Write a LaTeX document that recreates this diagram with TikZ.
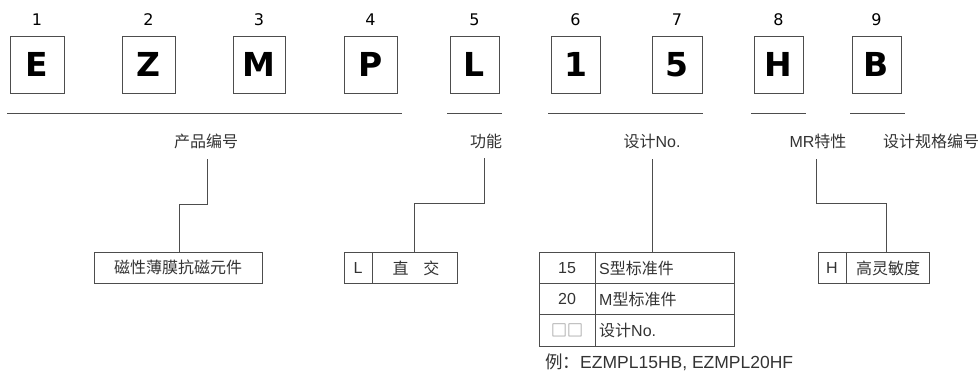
\documentclass[tikz,border=0pt]{standalone}
\usepackage{fontspec}
\setmainfont{Liberation Sans}
\newfontfamily\cjk{Noto Sans CJK SC}
\newfontfamily\dv{DejaVu Sans}
\definecolor{txt}{HTML}{333333}
\definecolor{ln}{HTML}{4D4D4D}
\tikzset{
  letterbox/.style={draw=ln, line width=0.8pt, minimum height=57pt, inner sep=0pt, font=\dv\fontsize{33}{36}\selectfont\bfseries, text=black},
  num/.style={font=\dv\fontsize{16}{18}\selectfont, text=black, inner sep=0pt},
  lab/.style={font=\fontsize{16}{18}\selectfont, text=txt, inner sep=0pt},
  cell/.style={draw=ln, line width=0.8pt, minimum height=31pt, inner sep=0pt},
  ctext/.style={font=\fontsize{16}{18}\selectfont, text=txt, inner sep=0pt},
  conn/.style={draw=ln, line width=0.8pt},
  rule/.style={draw=ln, line width=0.8pt}
}
\begin{document}
\begin{tikzpicture}[x=1pt,y=-1pt]
\useasboundingbox (0,0) rectangle (979,370);
% letter boxes
\node[letterbox, minimum width=54pt] (kE) at (37,64.5) {E};
\node[letterbox, minimum width=53pt] (kZ) at (148.5,64.5) {Z};
\node[letterbox, minimum width=52pt] (kM) at (259,64.5) {M};
\node[letterbox, minimum width=53pt] (kP) at (370.5,64.5) {P};
\node[letterbox, minimum width=49pt] (kL) at (474.5,64.5) {L};
\node[letterbox, minimum width=49pt] (k1) at (575.5,64.5) {1};
\node[letterbox, minimum width=50pt] (k5) at (677,64.5) {5};
\node[letterbox, minimum width=49pt] (kH) at (778.5,64.5) {H};
\node[letterbox, minimum width=49pt] (kB) at (876.5,64.5) {B};
% numbers
\node[num] (n1) at (37,20) {1};
\node[num] (n2) at (148.5,20) {2};
\node[num] (n3) at (259,20) {3};
\node[num] (n4) at (370.5,20) {4};
\node[num] (n5) at (474.5,20) {5};
\node[num] (n6) at (575.5,20) {6};
\node[num] (n7) at (677,20) {7};
\node[num] (n8) at (778.5,20) {8};
\node[num] (n9) at (876.5,20) {9};
% rules
\draw[rule] (7,113) -- (402,113);
\draw[rule] (447,113) -- (502,113);
\draw[rule] (548,113) -- (703,113);
\draw[rule] (751,113) -- (806,113);
\draw[rule] (850,113) -- (905,113);
% labels
\node[lab] (l1) at (206,141) {\cjk 产品编号};
\node[lab] (l2) at (486,141) {\cjk 功能};
\node[lab] (l3) at (652,141) {{\cjk 设计}No.};
\node[lab] (l4) at (818,141) {MR{\cjk 特性}};
\node[lab] (l5) at (931,141) {\cjk 设计规格编号};
% boxes
\node[cell, minimum width=168pt] (b1) at (178,267.5) {};
\node[ctext] at (b1) {\cjk 磁性薄膜抗磁元件};
\node[cell, minimum width=113pt] (b2) at (400.5,267.5) {};
\draw[conn] (372,252) -- (372,283);
\node[ctext] (b2a) at (358,268) {L};
\node[ctext] (b2b) at (416,268) {\cjk 直\hspace{15pt}交};
\node[cell, minimum width=195pt, minimum height=94pt] (b3) at (636.5,299) {};
\draw[conn] (539,283) -- (734,283);
\draw[conn] (539,314) -- (734,314);
\draw[conn] (595,252) -- (595,346);
\node[ctext] (t1a) at (567,268) {15};
\node[ctext, anchor=west] (t1b) at (599,268) {S{\cjk 型标准件}};
\node[ctext] (t2a) at (567,299) {20};
\node[ctext, anchor=west] (t2b) at (599,299) {M{\cjk 型标准件}};
\node[ctext, text=gray] (t3a) at (567,330) {\cjk □□};
\node[ctext, anchor=west] (t3b) at (599,330) {{\cjk 设计}No.};
\node[cell, minimum width=111pt] (b4) at (873.5,267.5) {};
\draw[conn] (846,252) -- (846,283);
\node[ctext] (b4a) at (832,268) {H};
\node[ctext] (b4b) at (888,268) {\cjk 高灵敏度};
\node[ctext, anchor=west, font=\fontsize{17.5}{20}\selectfont] (ex) at (545,362) {{\cjk 例：}EZMPL15HB, EZMPL20HF};
% connectors
\coordinate (c1a) at (207,159);
\coordinate (c1b) at (179,204);
\coordinate (c2a) at (484,158);
\coordinate (c2b) at (414,203);
\coordinate (c3a) at (652,159);
\coordinate (c4a) at (816,159);
\coordinate (c4b) at (886,203);
\draw[conn] (c1a) |- (c1b) -- (c1b |- b1.north);
\draw[conn] (c2a) |- (c2b) -- (c2b |- b2.north);
\draw[conn] (c3a) -- (c3a |- b3.north);
\draw[conn] (c4a) |- (c4b) -- (c4b |- b4.north);
\end{tikzpicture}
\end{document}
